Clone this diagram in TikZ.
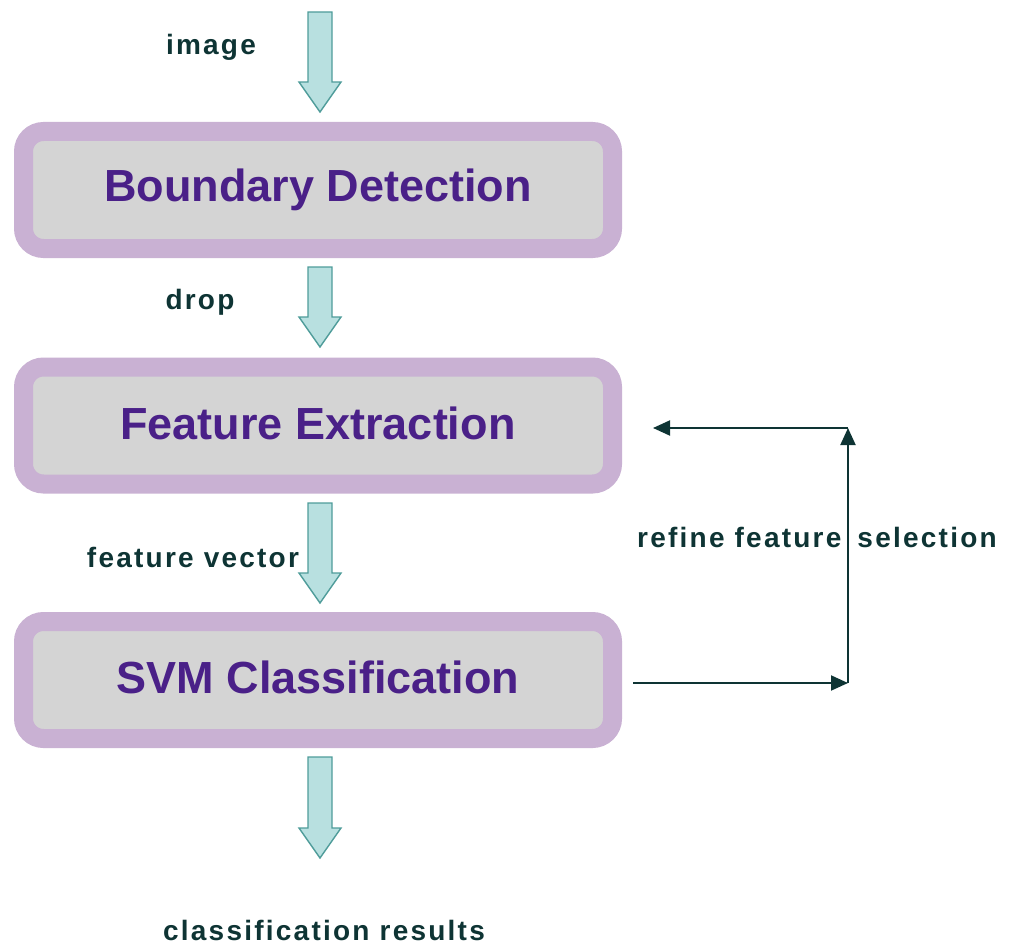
\documentclass[tikz,border=0pt]{standalone}
\usepackage{fontspec}
\setmainfont{Liberation Sans}
\usetikzlibrary{arrows.meta,calc}
\definecolor{ring}{HTML}{C9B1D3}
\definecolor{panel}{HTML}{D4D4D4}
\definecolor{title}{HTML}{4A2088}
\definecolor{note}{HTML}{0E3434}
\definecolor{bafill}{HTML}{B8E0E0}
\definecolor{badraw}{HTML}{4F9C9A}
\tikzset{
  stage/.style={draw=ring, line width=19pt, fill=panel, rounded corners=20pt,
    minimum width=589pt, minimum height=117pt, inner sep=0pt,
    font=\fontsize{45}{50}\selectfont\bfseries, text=title},
  label/.style={font=\fontsize{28}{32}\selectfont\bfseries\addfontfeature{LetterSpace=8},
    text=note, inner sep=0pt},
  feedback/.style={draw=note, line width=2pt, -{Triangle[length=17pt,width=15pt]}},
  blockarrow/.style={draw=badraw, line width=1.4pt, fill=bafill, line join=miter}
}
% stage title, set a little above the middle of its panel
\newcommand{\stagetitle}[1]{\raisebox{5pt}{#1}}
% hollow downward block arrow from #1 (top of shaft) to #2 (tip)
\newcommand{\downblock}[2]{%
  \path[blockarrow] ($(#1)+(-12,0)$) -- ($(#1)+(12,0)$) -- ($(#2)+(12,-30)$)
    -- ($(#2)+(21,-30)$) -- (#2) -- ($(#2)+(-21,-30)$) -- ($(#2)+(-12,-30)$) -- cycle;}
\begin{document}
\begin{tikzpicture}[x=1pt,y=-1pt]
\useasboundingbox (0,0) rectangle (1018,947);

% processing stages
\node[stage] (bd) at (318,190) {\stagetitle{Boundary Detection}};
\node[stage] (fe) at (318,425.5) {\stagetitle{Feature Extraction}};
\node[stage] (svm) at (318,680) {\stagetitle{SVM Classification}};

% data labels
\node[label] (limg) at (211,47) {image};
\node[label] (ldrop) at (200,302) {drop};
\node[label] (lfv) at (193,557) {feature vector};
\node[label] (lres) at (324,930) {classification results};

% block arrows between stages
\coordinate (a1s) at (320,12);  \coordinate (a1e) at (320,112);
\coordinate (a2s) at (320,267); \coordinate (a2e) at (320,347);
\coordinate (a3s) at (320,503); \coordinate (a3e) at (320,603);
\coordinate (a4s) at (320,757); \coordinate (a4e) at (320,858);
\downblock{a1s}{a1e}
\downblock{a2s}{a2e}
\downblock{a3s}{a3e}
\downblock{a4s}{a4e}

% feedback loop
\coordinate (fbout) at ($(svm.east)+(11,3)$);
\coordinate (fbcorner1) at (848,683);
\coordinate (fbcorner2) at (848,428);
\coordinate (fbin) at ($(fe.east)+(31,2.5)$);
\draw[feedback] (fbout) -- (fbcorner1);
\draw[feedback] (fbcorner1) -- (fbcorner2);
\draw[feedback] (fbcorner2) -- (fbin);
\node[label, anchor=west] (lref) at (637,537) {refine feature\hspace{6pt} selection};
\end{tikzpicture}
\end{document}
